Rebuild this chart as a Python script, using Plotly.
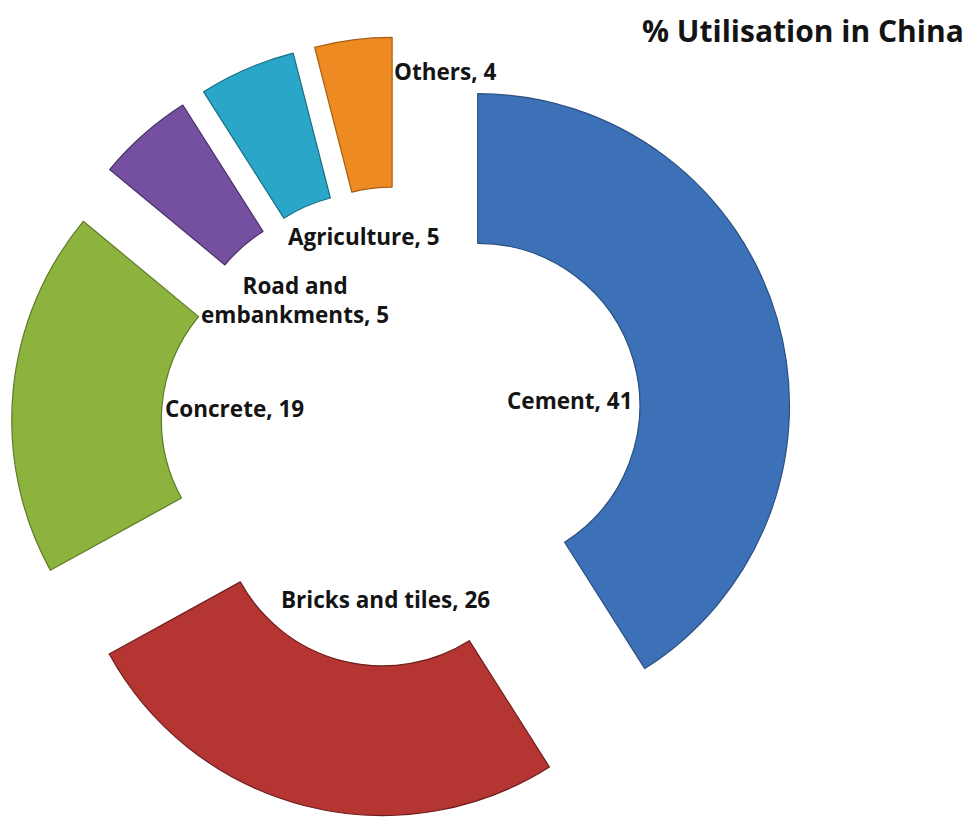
import plotly.graph_objects as go

categories = ["Cement", "Bricks and tiles", "Concrete", "Road and embankments", "Agriculture", "Others"]
values = [41, 26, 19, 5, 5, 4]
label_texts = ["Cement, 41", "Bricks and tiles, 26", "Concrete, 19", "Road and<br>embankments, 5", "Agriculture, 5", "Others, 4"]
colors = ["#3C71B8", "#B53532", "#8CB33D", "#7550A0", "#2AA7C8", "#EE8A22"]
edge_colors = ["#2A4F80", "#6E1F1D", "#5E7A28", "#4A3166", "#1A6F85", "#A35E15"]

W, H = 972, 818

fig = go.Figure()
fig.add_trace(go.Pie(
    labels=categories,
    values=values,
    hole=0.52,
    pull=[0.253] * len(values),
    sort=False,
    direction="clockwise",
    rotation=0,
    marker=dict(colors=colors, line=dict(color=edge_colors, width=1.2)),
    textinfo="none",
    showlegend=False,
    domain=dict(x=[11 / W, 793 / W], y=[0.0, 0.955]),
))

# label positions in pixels (centre x, centre y)
label_pos = [(570, 401), (385, 599), (234, 408), (295, 300), (364, 236), (445, 72)]
for txt, (px, py) in zip(label_texts, label_pos):
    fig.add_annotation(
        text="<b>" + txt + "</b>", x=px / W, y=1 - py / H, xref="paper", yref="paper",
        xanchor="center", yanchor="middle", showarrow=False, align="center",
        font=dict(family="Open Sans", size=22.5, color="#141414"),
    )

fig.add_annotation(
    text="<b>% Utilisation in China</b>", x=966 / W, y=1 - 30 / H, xref="paper", yref="paper",
    xanchor="right", yanchor="middle", showarrow=False,
    font=dict(family="Open Sans", size=30, color="#141414"),
)

fig.update_layout(
    width=W, height=H,
    margin=dict(l=0, r=0, t=0, b=0),
    paper_bgcolor="white", plot_bgcolor="white",
)
fig.write_html(
    "out.html",
    config={"displayModeBar": False},
    post_script="document.body.style.margin='0';document.body.style.overflow='hidden';",
)
